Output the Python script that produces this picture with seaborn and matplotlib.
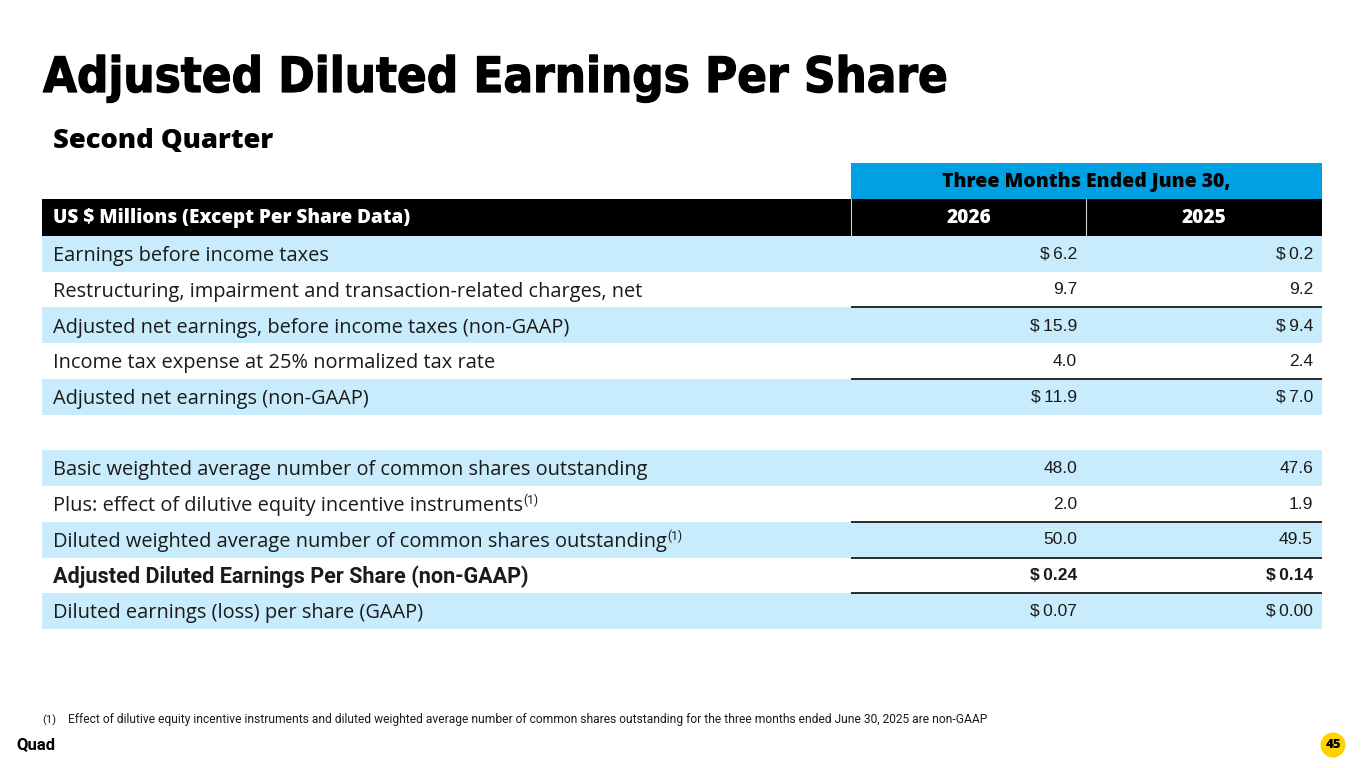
import matplotlib
matplotlib.use("Agg")
import matplotlib.pyplot as plt
from matplotlib.patches import Rectangle, Circle
import matplotlib.patheffects as pe
import seaborn as sns
import pandas as pd

# ---------------- data ----------------
title = "Adjusted Diluted Earnings Per Share"
subtitle = "Second Quarter"
period_header = "Three Months Ended June 30,"
label_header = "US $ Millions (Except Per Share Data)"
years = ["2026", "2025"]
row_labels = [
    "Earnings before income taxes",
    "Restructuring, impairment and transaction-related charges, net",
    "Adjusted net earnings, before income taxes (non-GAAP)",
    "Income tax expense at 25% normalized tax rate",
    "Adjusted net earnings (non-GAAP)",
    "",
    "Basic weighted average number of common shares outstanding",
    "Plus: effect of dilutive equity incentive instruments",
    "Diluted weighted average number of common shares outstanding",
    "Adjusted Diluted Earnings Per Share (non-GAAP)",
    "Diluted earnings (loss) per share (GAAP)",
]
values_2026 = [6.2, 9.7, 15.9, 4.0, 11.9, None, 48.0, 2.0, 50.0, 0.24, 0.07]
values_2025 = [0.2, 9.2, 9.4, 2.4, 7.0, None, 47.6, 1.9, 49.5, 0.14, 0.00]
decimals = [1, 1, 1, 1, 1, 1, 1, 1, 1, 2, 2]
dollar_rows = [True, False, True, False, True, False, False, False, False, True, True]
bold_rows = [False] * 9 + [True, False]
shaded_rows = [True, False, True, False, True, False, True, False, True, False, True]
rule_above = [False, False, True, False, True, False, False, False, True, True, True]
footnote_mark = [False] * 7 + [True, True, False, False]
footnote_id = "(1)"
footnote = ("Effect of dilutive equity incentive instruments and diluted weighted average number of "
            "common shares outstanding for the three months ended June 30, 2025 are non-GAAP")
brand = "Quad"
page_number = "45"

df = pd.DataFrame({"label": row_labels, years[0]: values_2026, years[1]: values_2025,
                   "dec": decimals, "dollar": dollar_rows, "bold": bold_rows,
                   "shade": shaded_rows, "rule": rule_above, "fn": footnote_mark})

# ---------------- style ----------------
sns.set_theme(style="white")
plt.rcParams["font.family"] = ["Open Sans", "DejaVu Sans"]

W, H = 1365, 768
fig = plt.figure(figsize=(W / 100, H / 100), dpi=100)
ax = fig.add_axes([0, 0, 1, 1])
ax.set_xlim(0, W)
ax.set_ylim(H, 0)
ax.axis("off")
fig.canvas.draw()
R = fig.canvas.get_renderer()


def width(t):
    return t.get_window_extent(renderer=R).width


def fit(t, target):
    t.set_fontsize(t.get_fontsize() * target / width(t))
    return t


LIGHT = "#c8ecfc"
BLUE = "#00a0e3"
TXT = "#1a1a1a"
HEAVY = ["Open Sans"]
COND = ["Roboto", "DejaVu Sans"]

x_left, x_c1, x_c2, x_right = 42, 851, 1086, 1322
hdr1_top, hdr2_top, body_top = 163, 199, 236
row_h = (629 - 236) / len(df)

# title
fit(ax.text(43, 92, title, fontsize=48, fontweight="bold", fontstretch="condensed",
            family=["DejaVu Sans"], color="black", va="baseline", ha="left",
            path_effects=[pe.withStroke(linewidth=0.9, foreground="black")]), 904)

fit(ax.text(53, 148, subtitle, fontsize=18, fontweight="heavy", family=HEAVY,
            color="black", va="baseline", ha="left"), 220)

# header rows
ax.add_patch(Rectangle((x_c1, hdr1_top), x_right - x_c1, hdr2_top - hdr1_top, color=BLUE, lw=0))
fit(ax.text((x_c1 + x_right) / 2, (hdr1_top + hdr2_top) / 2 + 5.5, period_header, fontsize=12,
            fontweight="heavy", family=HEAVY, color="black", ha="center", va="baseline"), 289)
ax.add_patch(Rectangle((x_left, hdr2_top), x_right - x_left, body_top - hdr2_top, color="black", lw=0))
ax.plot([x_c1, x_c1], [hdr2_top, body_top], color="#d0d0d0", lw=0.8)
ax.plot([x_c2, x_c2], [hdr2_top, body_top], color="#d0d0d0", lw=0.8)
hdr = fit(ax.text(53, (hdr2_top + body_top) / 2 + 5.5, label_header, fontsize=12,
                  fontweight="heavy", family=HEAVY, color="white", ha="left", va="baseline"), 359)
for yr, (a, b) in zip(years, [(x_c1, x_c2), (x_c2, x_right)]):
    ax.text((a + b) / 2, (hdr2_top + body_top) / 2 + 5.5, yr, fontsize=hdr.get_fontsize(),
            fontweight="heavy", family=HEAVY, color="white", ha="center", va="baseline")

# label size fitted on the longest regular label
probe = ax.text(0, -100, row_labels[1], fontsize=13)
lab_fs = fit(probe, 585).get_fontsize()
probe.remove()
base_off = lab_fs * 100 / 72 * 0.36

# body
for i, r in df.iterrows():
    top = body_top + i * row_h
    yc = top + row_h / 2
    if r["shade"]:
        ax.add_patch(Rectangle((x_left, top), x_right - x_left, row_h, color=LIGHT, lw=0))
    if r["rule"]:
        ax.plot([x_c1, x_right], [top, top], color="#2a2a2a", lw=1.4, solid_capstyle="butt")
    if r["label"] == "":
        continue
    if r["bold"]:
        lt = ax.text(53, yc + base_off, r["label"], fontsize=lab_fs * 1.08, color=TXT,
                     ha="left", va="baseline", fontweight="bold", family=COND)
    else:
        lt = ax.text(53, yc + base_off, r["label"], fontsize=lab_fs, color=TXT, ha="left",
                     va="baseline")
    if r["fn"]:
        ax.text(53 + width(lt), yc + base_off - 7, footnote_id, fontsize=lab_fs * 0.6,
                color=TXT, ha="left", va="baseline", family=COND)
    for col, xr in zip(years, [1077, 1313]):
        v = r[col]
        s = f"{v:.{int(r['dec'])}f}"
        if r["dollar"]:
            s = "$\u2009" + s
        ax.text(xr, yc + 4.8, s, fontsize=12.5, color=TXT, ha="right", va="baseline",
                family=["Liberation Sans", "DejaVu Sans"],
                fontweight="bold" if r["bold"] else "normal")

# footnote
ax.text(42, 723, footnote_id, fontsize=8, color=TXT, ha="left", va="baseline", family=COND)
fit(ax.text(68, 723, footnote, fontsize=8, color=TXT, ha="left", va="baseline",
            family=COND), 919)

# footer
fit(ax.text(16, 749, brand, fontsize=11, fontweight="bold", family=COND,
            color="black", ha="left", va="baseline"), 39)
ax.add_patch(Circle((1333, 745), 12.5, color="#ffd200", lw=0))
ax.text(1333, 745, page_number, fontsize=9.5, fontweight="heavy", family=HEAVY, color="black",
        ha="center", va="center")

fig.savefig("out.png", dpi=100)
